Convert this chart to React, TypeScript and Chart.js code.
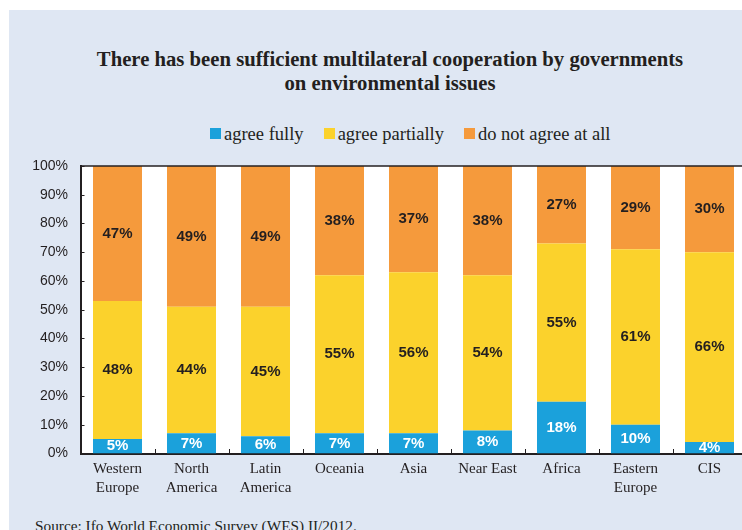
import React, { useEffect, useRef } from "react";
import { Chart, registerables } from "chart.js";

Chart.register(...registerables);

const titleLines = [
  "There has been sufficient multilateral cooperation by governments",
  "on environmental issues",
];
const categories = [
  ["Western", "Europe"],
  ["North", "America"],
  ["Latin", "America"],
  ["Oceania"],
  ["Asia"],
  ["Near East"],
  ["Africa"],
  ["Eastern", "Europe"],
  ["CIS"],
];
const agreeFully = [5, 7, 6, 7, 7, 8, 18, 10, 4];
const agreePartially = [48, 44, 45, 55, 56, 54, 55, 61, 66];
const doNotAgree = [47, 49, 49, 38, 37, 38, 27, 29, 30];
const seriesNames = ["agree fully", "agree partially", "do not agree at all"];
const seriesColors = ["#1ba1db", "#fbd22c", "#f59a3c"];
const labelColors = ["#ffffff", "#231f20", "#231f20"];
const yMin = 0;
const yMax = 100;
const yStep = 10;
const sourceText = "Source: Ifo World Economic Survey (WES) II/2012.";

const INK = "#231f20";
const PANEL = "#dfe7f3";

const plotDecor = {
  id: "plotDecor",
  beforeDraw(chart: any) {
    const { ctx, chartArea } = chart;
    ctx.save();
    ctx.fillStyle = "#ffffff";
    ctx.fillRect(chartArea.left, chartArea.top, chartArea.right - chartArea.left, chartArea.bottom - chartArea.top);
    ctx.restore();
  },
  afterDatasetsDraw(chart: any) {
    const { ctx } = chart;
    ctx.save();
    ctx.font = "bold 15px 'Liberation Sans', Arial, sans-serif";
    ctx.textAlign = "center";
    ctx.textBaseline = "middle";
    chart.data.datasets.forEach((ds: any, di: number) => {
      const meta = chart.getDatasetMeta(di);
      meta.data.forEach((el: any, i: number) => {
        const p = el.getProps(["x", "y", "base"], true);
        ctx.fillStyle = labelColors[di];
        ctx.fillText(ds.data[i] + "%", p.x, (p.y + p.base) / 2);
      });
    });
    ctx.restore();
  },
  afterDraw(chart: any) {
    const { ctx, chartArea, scales } = chart;
    const x = scales.x;
    const y = scales.y;
    ctx.save();
    ctx.strokeStyle = INK;
    ctx.lineWidth = 1.5;
    ctx.beginPath();
    ctx.moveTo(chartArea.left, chartArea.top);
    ctx.lineTo(chartArea.right, chartArea.top);
    ctx.stroke();
    ctx.lineWidth = 1;
    y.ticks.forEach((t: any) => {
      const py = Math.round(y.getPixelForValue(t.value)) + 0.5;
      ctx.beginPath();
      ctx.moveTo(chartArea.left, py);
      ctx.lineTo(chartArea.left + 4, py);
      ctx.stroke();
    });
    for (let i = 1; i < categories.length; i++) {
      const px = Math.round((x.getPixelForValue(i - 1) + x.getPixelForValue(i)) / 2) + 0.5;
      ctx.beginPath();
      ctx.moveTo(px, chartArea.bottom);
      ctx.lineTo(px, chartArea.bottom - 4.5);
      ctx.stroke();
    }
    ctx.restore();
  },
};

export default function App() {
  const canvasRef = useRef<HTMLCanvasElement | null>(null);

  useEffect(() => {
    const canvas = canvasRef.current;
    if (!canvas) return;
    const series = [agreeFully, agreePartially, doNotAgree];
    const chart = new Chart(canvas, {
      type: "bar",
      data: {
        labels: categories as any,
        datasets: series.map((d, i) => ({
          label: seriesNames[i],
          data: d,
          backgroundColor: seriesColors[i],
          borderWidth: 0,
          barPercentage: 0.662,
          categoryPercentage: 1,
        })),
      },
      options: {
        animation: false,
        responsive: false,
        devicePixelRatio: 1,
        layout: { padding: { top: 15.7, right: 13.5, bottom: 6.5, left: 0 } },
        plugins: {
          legend: { display: false },
          title: { display: false },
          tooltip: { enabled: false },
        },
        scales: {
          x: {
            stacked: true,
            grid: { display: false, drawTicks: false },
            border: { display: true, color: INK, width: 2 },
            ticks: {
              color: INK,
              font: { family: "'Liberation Serif', 'Times New Roman', serif", size: 15, lineHeight: 1.24 },
              padding: 6.3,
              maxRotation: 0,
              autoSkip: false,
            },
            afterFit: (s: any) => {
              s.height = 50;
            },
          },
          y: {
            stacked: true,
            min: yMin,
            max: yMax,
            grid: { display: false, drawTicks: false },
            border: { display: true, color: INK, width: 2 },
            ticks: {
              stepSize: yStep,
              color: INK,
              font: { family: "'Liberation Sans', Arial, sans-serif", size: 14 },
              padding: 12.5,
              callback: (v: any) => v + "%",
            },
            afterFit: (s: any) => {
              s.width = 80.5;
            },
          },
        },
      },
      plugins: [plotDecor],
    });
    return () => chart.destroy();
  }, []);

  return (
    <div
      style={{
        position: "absolute",
        left: 0,
        top: 0,
        width: 742,
        height: 530,
        overflow: "hidden",
        background: "#ffffff",
      }}
    >
      <div style={{ position: "absolute", left: 9, top: 10, width: 800, height: 540, background: PANEL }} />
      <div
        style={{
          position: "absolute",
          left: 0,
          top: 46.6,
          width: 780,
          textAlign: "center",
          fontFamily: "'Liberation Serif', 'Times New Roman', serif",
          fontWeight: "bold",
          fontSize: 20.7,
          lineHeight: "24.3px",
          color: INK,
          whiteSpace: "nowrap",
        }}
      >
        {titleLines.map((t, i) => (
          <div key={i}>{t}</div>
        ))}
      </div>
      <div
        style={{
          position: "absolute",
          left: 210,
          top: 124.8,
          fontFamily: "'Liberation Serif', 'Times New Roman', serif",
          fontSize: 18.5,
          lineHeight: "18px",
          color: INK,
          whiteSpace: "nowrap",
        }}
      >
        {seriesNames.map((n, i) => (
          <span key={i} style={{ marginRight: i < seriesNames.length - 1 ? 20 : 0 }}>
            <span
              style={{
                display: "inline-block",
                width: 11,
                height: 11,
                marginBottom: 1,
                marginRight: 3,
                background: seriesColors[i],
                verticalAlign: "baseline",
              }}
            />
            {n}
          </span>
        ))}
      </div>
      <canvas
        ref={canvasRef}
        width={760}
        height={365}
        style={{ position: "absolute", left: 0, top: 145, width: 760, height: 365 }}
      />
      <div
        style={{
          position: "absolute",
          left: 35,
          top: 517,
          fontFamily: "'Liberation Serif', 'Times New Roman', serif",
          fontSize: 15.3,
          lineHeight: "17px",
          color: INK,
          whiteSpace: "nowrap",
        }}
      >
        {sourceText}
      </div>
    </div>
  );
}
